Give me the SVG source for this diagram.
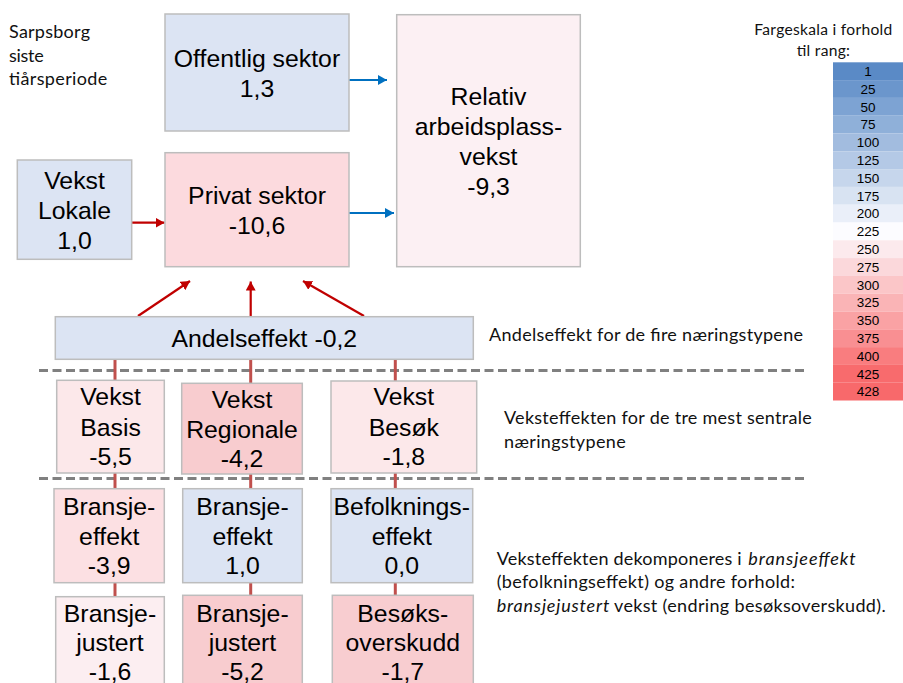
<svg xmlns="http://www.w3.org/2000/svg" width="903" height="683" viewBox="0 0 903 683">
<style>
.box{stroke:#BDBDBD;stroke-width:1.5}
.bl{fill:#DCE4F3}
.nt{font-family:"Liberation Sans",Arial,sans-serif;font-size:24.8px;fill:#000;text-anchor:middle}
.an{font-family:Lato,"Noto Sans",sans-serif;font-size:18px;fill:#111}
.sc{font-family:"Liberation Sans",Arial,sans-serif;font-size:13.5px;fill:#000;text-anchor:middle}
.dash{stroke:#808080;stroke-width:3;stroke-dasharray:9 4.5;fill:none}
.con{stroke:#C0504D;stroke-width:3;fill:none}
.blue{stroke:#0070C0;stroke-width:2.2;fill:none;marker-end:url(#ab)}
.red{stroke:#C00000;stroke-width:2.2;fill:none;marker-end:url(#ar)}
</style>
<defs>
<marker id="ab" markerUnits="userSpaceOnUse" markerWidth="12" markerHeight="12" refX="9" refY="5" orient="auto"><path d="M0,0 L9,5 L0,10 Z" fill="#0070C0"/></marker>
<marker id="ar" markerUnits="userSpaceOnUse" markerWidth="12" markerHeight="12" refX="9" refY="5" orient="auto"><path d="M0,0 L9,5 L0,10 Z" fill="#C00000"/></marker>
</defs>
<rect width="903" height="683" fill="#fff"/>

<g id="annotations">
<text class="an" x="9" y="37.5" textLength="81">Sarpsborg</text>
<text class="an" x="9" y="61.5" textLength="34.7">siste</text>
<text class="an" x="9" y="85" textLength="98.3">tiårsperiode</text>
<text class="an" x="754.3" y="35" textLength="138" style="font-size:15.6px">Fargeskala i forhold</text>
<text class="an" x="796.7" y="56" textLength="53.3" style="font-size:15.6px">til rang:</text>
<text class="an" x="489" y="340.7" textLength="314">Andelseffekt for de fire næringstypene</text>
<text class="an" x="504" y="424" textLength="307.7">Veksteffekten for de tre mest sentrale</text>
<text class="an" x="504" y="448.3" textLength="121.7">næringstypene</text>
<text class="an" x="496.7" y="565" textLength="245">Veksteffekten dekomponeres i</text>
<text class="an" x="748.3" y="565" textLength="107.4" font-style="italic">bransjeeffekt</text>
<text class="an" x="496.7" y="588.3" textLength="298.3">(befolkningseffekt) og andre forhold:</text>
<text class="an" x="496.7" y="612.3" textLength="112.6" font-style="italic">bransjejustert</text>
<text class="an" x="614" y="612.3" textLength="271.7">vekst (endring besøksoverskudd).</text>
</g>

<g id="scale">
<rect x="833" y="62.3" width="70" height="17.8" fill="#5A8AC6"/>
<rect x="833" y="80.1" width="70" height="17.8" fill="#6B96CC"/>
<rect x="833" y="97.9" width="70" height="17.8" fill="#7DA3D3"/>
<rect x="833" y="115.7" width="70" height="17.8" fill="#8FB0D9"/>
<rect x="833" y="133.5" width="70" height="17.8" fill="#A2BCDF"/>
<rect x="833" y="151.3" width="70" height="17.8" fill="#B4C9E6"/>
<rect x="833" y="169.1" width="70" height="17.8" fill="#C6D6EC"/>
<rect x="833" y="186.9" width="70" height="17.8" fill="#D8E3F2"/>
<rect x="833" y="204.7" width="70" height="17.8" fill="#EAEFF9"/>
<rect x="833" y="222.5" width="70" height="17.8" fill="#FCFCFF"/>
<rect x="833" y="240.3" width="70" height="17.8" fill="#FCEAED"/>
<rect x="833" y="258.1" width="70" height="17.8" fill="#FBD8DB"/>
<rect x="833" y="275.9" width="70" height="17.8" fill="#FBC6C8"/>
<rect x="833" y="293.7" width="70" height="17.8" fill="#FAB4B6"/>
<rect x="833" y="311.5" width="70" height="17.8" fill="#FAA2A4"/>
<rect x="833" y="329.3" width="70" height="17.8" fill="#F98F92"/>
<rect x="833" y="347.1" width="70" height="17.8" fill="#F97D7F"/>
<rect x="833" y="364.9" width="70" height="17.8" fill="#F86B6D"/>
<rect x="833" y="382.7" width="70" height="17.8" fill="#F8696B"/>
<text class="sc" x="868" y="76">1</text>
<text class="sc" x="868" y="93.8">25</text>
<text class="sc" x="868" y="111.6">50</text>
<text class="sc" x="868" y="129.4">75</text>
<text class="sc" x="868" y="147.2">100</text>
<text class="sc" x="868" y="165">125</text>
<text class="sc" x="868" y="182.8">150</text>
<text class="sc" x="868" y="200.6">175</text>
<text class="sc" x="868" y="218.4">200</text>
<text class="sc" x="868" y="236.2">225</text>
<text class="sc" x="868" y="254">250</text>
<text class="sc" x="868" y="271.8">275</text>
<text class="sc" x="868" y="289.6">300</text>
<text class="sc" x="868" y="307.4">325</text>
<text class="sc" x="868" y="325.2">350</text>
<text class="sc" x="868" y="343">375</text>
<text class="sc" x="868" y="360.8">400</text>
<text class="sc" x="868" y="378.6">425</text>
<text class="sc" x="868" y="396.4">428</text>
</g>

<g id="separators">
<line class="dash" x1="39" y1="370.5" x2="808" y2="370.5"/>
<line class="dash" x1="39" y1="478.5" x2="808" y2="478.5"/>
</g>

<g id="connectors">
<line class="blue" x1="349" y1="80" x2="387" y2="80"/>
<line class="blue" x1="349" y1="213" x2="394" y2="213"/>
<line class="red" x1="132" y1="222.7" x2="164.5" y2="222.7"/>
<line class="red" x1="138" y1="316" x2="190" y2="281"/>
<line class="red" x1="250.7" y1="316" x2="250.7" y2="281.5"/>
<line class="red" x1="364" y1="316" x2="303" y2="281"/>
<line class="con" x1="115" y1="359" x2="115" y2="380.5"/>
<line class="con" x1="250.7" y1="359" x2="250.7" y2="383.5"/>
<line class="con" x1="395.3" y1="359" x2="395.3" y2="381"/>
<line class="con" x1="115" y1="473" x2="115" y2="489"/>
<line class="con" x1="250.7" y1="474" x2="250.7" y2="489"/>
<line class="con" x1="395.3" y1="473" x2="395.3" y2="489"/>
<line class="con" x1="115" y1="582.7" x2="115" y2="597"/>
<line class="con" x1="250.7" y1="582.7" x2="250.7" y2="595.5"/>
<line class="con" x1="395.3" y1="582.7" x2="395.3" y2="595.5"/>
</g>

<g id="offentlig">
<rect class="box bl" x="165" y="14" width="184" height="117"/>
<text class="nt" x="257" y="66.5">Offentlig sektor</text>
<text class="nt" x="257" y="97">1,3</text>
</g>
<g id="privat">
<rect class="box" fill="#FCDADE" x="165" y="152.7" width="184" height="114"/>
<text class="nt" x="257" y="204">Privat sektor</text>
<text class="nt" x="257" y="234">-10,6</text>
</g>
<g id="vekst-lokale">
<rect class="box bl" x="17.3" y="160" width="114.4" height="99.3"/>
<text class="nt" x="74.5" y="189">Vekst</text>
<text class="nt" x="74.5" y="218.5">Lokale</text>
<text class="nt" x="74.5" y="248.5">1,0</text>
</g>
<g id="relativ">
<rect class="box" fill="#FCF0F3" x="396.7" y="14.7" width="183.6" height="252"/>
<text class="nt" x="488.5" y="105">Relativ</text>
<text class="nt" x="488.5" y="135">arbeidsplass-</text>
<text class="nt" x="488.5" y="165">vekst</text>
<text class="nt" x="488.5" y="195">-9,3</text>
</g>
<g id="andelseffekt">
<rect class="box bl" x="55.3" y="316.7" width="418" height="42.6"/>
<text class="nt" x="264.3" y="346.5">Andelseffekt -0,2</text>
</g>
<g id="vekst-basis">
<rect class="box" fill="#FCE8EA" x="56.7" y="380.3" width="107.6" height="92.7"/>
<text class="nt" x="110.5" y="405">Vekst</text>
<text class="nt" x="110.5" y="435.5">Basis</text>
<text class="nt" x="110.5" y="465">-5,5</text>
</g>
<g id="vekst-regionale">
<rect class="box" fill="#F8CCCF" x="181.7" y="383.3" width="120.6" height="90.7"/>
<text class="nt" x="242" y="407.5">Vekst</text>
<text class="nt" x="242" y="437.5">Regionale</text>
<text class="nt" x="242" y="467">-4,2</text>
</g>
<g id="vekst-besok">
<rect class="box" fill="#FCE8EA" x="331" y="381" width="145.7" height="92"/>
<text class="nt" x="403.8" y="405">Vekst</text>
<text class="nt" x="403.8" y="435.5">Besøk</text>
<text class="nt" x="403.8" y="465">-1,8</text>
</g>
<g id="bransjeeffekt-basis">
<rect class="box" fill="#FCE0E3" x="54" y="488.7" width="110.3" height="94"/>
<text class="nt" x="109.2" y="515">Bransje-</text>
<text class="nt" x="109.2" y="544.5">effekt</text>
<text class="nt" x="109.2" y="574">-3,9</text>
</g>
<g id="bransjeeffekt-regionale">
<rect class="box bl" x="182.7" y="488.7" width="119.6" height="94"/>
<text class="nt" x="242.5" y="515">Bransje-</text>
<text class="nt" x="242.5" y="544.5">effekt</text>
<text class="nt" x="242.5" y="574">1,0</text>
</g>
<g id="befolkningseffekt">
<rect class="box bl" x="331" y="488.7" width="141.7" height="94"/>
<text class="nt" x="401.8" y="515">Befolknings-</text>
<text class="nt" x="401.8" y="544.5">effekt</text>
<text class="nt" x="401.8" y="574">0,0</text>
</g>
<g id="bransjejustert-basis">
<rect class="box" fill="#FCEEF1" x="55.7" y="596.7" width="108.6" height="110"/>
<text class="nt" x="110" y="622">Bransje-</text>
<text class="nt" x="110" y="650.5">justert</text>
<text class="nt" x="110" y="679.5">-1,6</text>
</g>
<g id="bransjejustert-regionale">
<rect class="box" fill="#F8CCCF" x="182.7" y="595.3" width="119.6" height="110"/>
<text class="nt" x="242.5" y="622">Bransje-</text>
<text class="nt" x="242.5" y="650.5">justert</text>
<text class="nt" x="242.5" y="679.5">-5,2</text>
</g>
<g id="besoksoverskudd">
<rect class="box" fill="#F8CDD0" x="332.3" y="595.3" width="141" height="110"/>
<text class="nt" x="402.8" y="622">Besøks-</text>
<text class="nt" x="402.8" y="650.5">overskudd</text>
<text class="nt" x="402.8" y="679.5">-1,7</text>
</g>
</svg>
